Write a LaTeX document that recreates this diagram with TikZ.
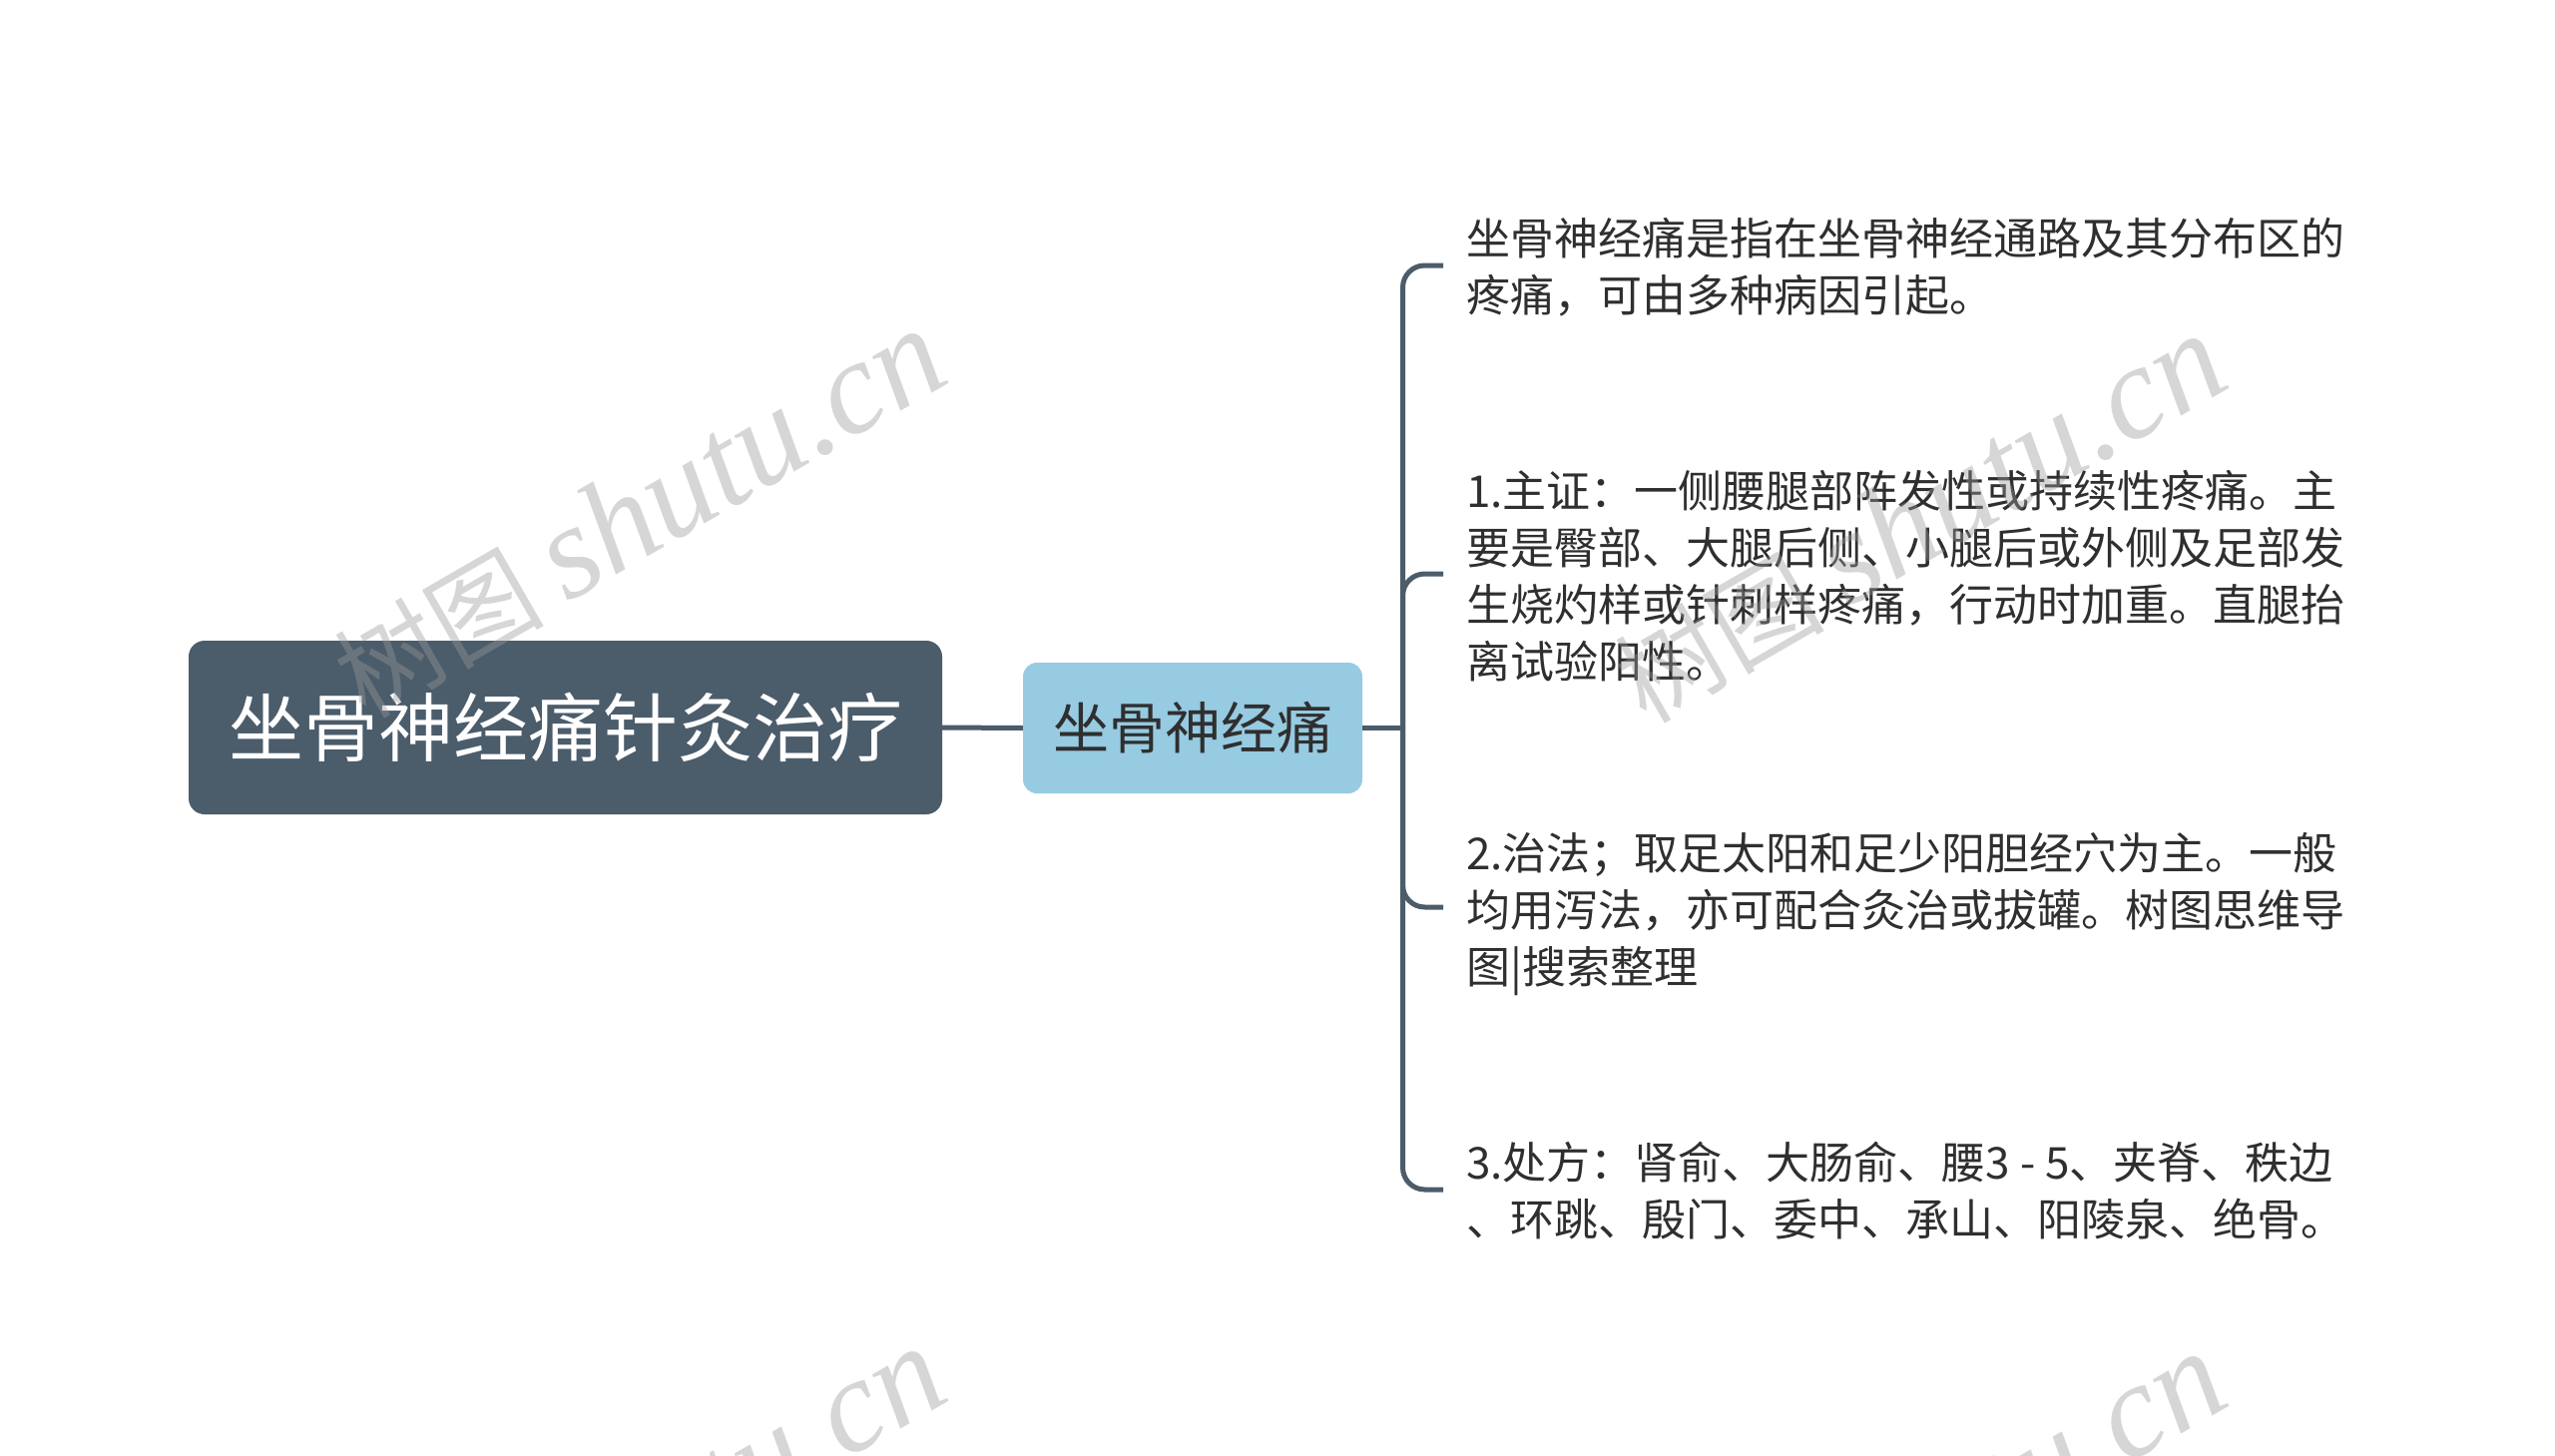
\documentclass[tikz,border=0pt]{standalone}
\usepackage{fontspec}
\setmainfont{Noto Sans CJK SC}
\newfontfamily\wmlatin{Liberation Serif}
\usetikzlibrary{positioning}
\definecolor{rootfill}{HTML}{4B5C6B}
\definecolor{midfill}{HTML}{96CBE2}
\definecolor{linecol}{HTML}{4B5C6B}
\definecolor{txtcol}{HTML}{2F2F2F}
\definecolor{wmcol}{HTML}{9A9A9A}
\tikzset{
  rootbox/.style={draw=none, fill=rootfill, rounded corners=16pt, text=white,
    minimum width=755pt, minimum height=174pt, inner sep=0pt,
    font=\fontsize{75pt}{90pt}\selectfont},
  midbox/.style={draw=none, fill=midfill, rounded corners=14pt, text=txtcol,
    minimum width=340pt, minimum height=131pt, inner sep=0pt,
    font=\fontsize{56pt}{68pt}\selectfont},
  leaf/.style={anchor=west, align=left, inner sep=0pt, text=txtcol,
    font=\fontsize{44pt}{57pt}\selectfont},
  conn/.style={draw=linecol, line width=5pt},
  branch/.style={draw=linecol, line width=5pt, rounded corners=22pt},
  watermark/.style={text=wmcol, opacity=0.4, rotate=30, inner sep=0pt,
    font=\fontsize{105pt}{130pt}\selectfont}
}
\newcommand{\wmtext}{树图 {\fontsize{133pt}{140pt}\selectfont\wmlatin\itshape shutu.cn}}
\begin{document}
\begin{tikzpicture}[x=1pt,y=-1pt]
\useasboundingbox (0,0) rectangle (2560,1459);
\fill[white] (0,0) rectangle (2560,1459);

\node[rootbox] (root) at (566.5,729) {坐骨神经痛针灸治疗};
\node[midbox] (mid) at (1195,729.5) {坐骨神经痛};

\node[leaf] (t1) at (1469,268) {坐骨神经痛是指在坐骨神经通路及其分布区的\\疼痛，可由多种病因引起。};
\node[leaf] (t2) at (1469,577) {1.主证：一侧腰腿部阵发性或持续性疼痛。主\\要是臀部、大腿后侧、小腿后或外侧及足部发\\生烧灼样或针刺样疼痛，行动时加重。直腿抬\\离试验阳性。};
\node[leaf] (t3) at (1469,916) {2.治法；取足太阳和足少阳胆经穴为主。一般\\均用泻法，亦可配合灸治或拔罐。树图思维导\\图|搜索整理};
\node[leaf] (t4) at (1469,1193) {3.处方：肾俞、大肠俞、腰3 - 5、夹脊、秩边\\、环跳、殷门、委中、承山、阳陵泉、绝骨。};

\coordinate (j) at (1405.5,729.5);
\draw[conn] (root.east) -- (mid.west);
\draw[conn] (mid.east) -- ([xshift=2.5pt]j);
\draw[branch] (j) |- ([xshift=-23pt]t1.west |- 0,266);
\draw[branch] (j) |- ([xshift=-23pt]t2.west |- 0,575);
\draw[branch] (j) |- ([xshift=-23pt]t3.west |- 0,909);
\draw[branch] (j) |- ([xshift=-23pt]t4.west |- 0,1192);

\node[watermark] (w1) at (640,515) {\wmtext};
\node[watermark] (w2) at (1923,520) {\wmtext};
\node[watermark] (w3) at (640,1535) {\wmtext};
\node[watermark] (w4) at (1923,1540) {\wmtext};
\end{tikzpicture}
\end{document}
